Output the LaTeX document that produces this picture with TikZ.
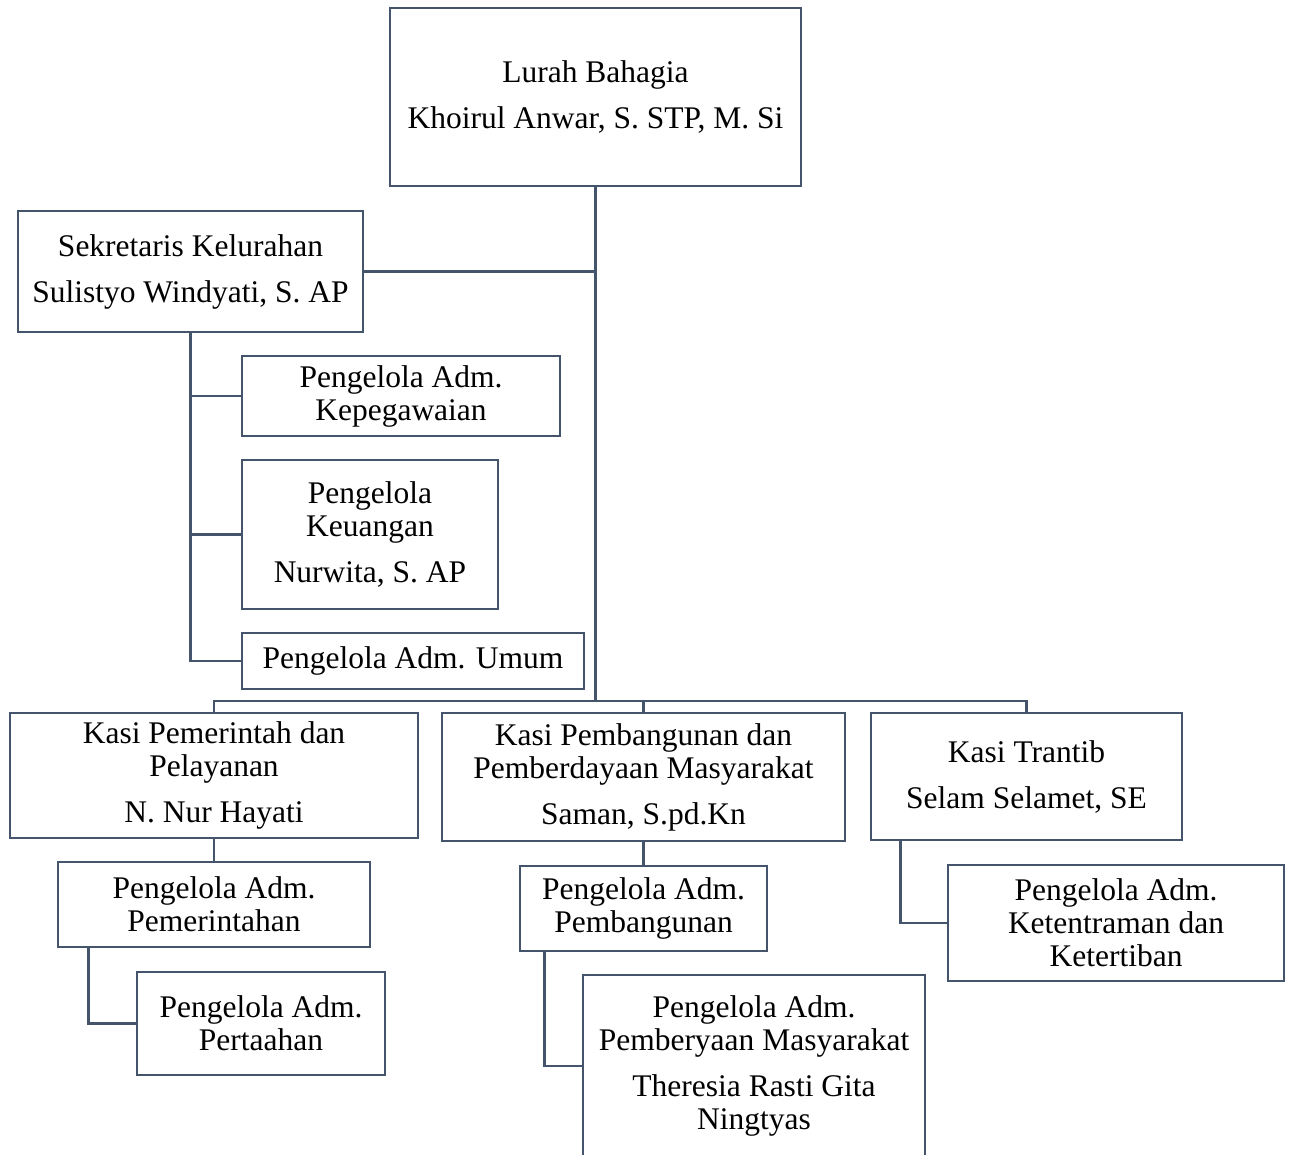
\documentclass[tikz,border=0pt]{standalone}
\usepackage{fontspec}
\setmainfont{Liberation Serif}
\usetikzlibrary{calc}
\definecolor{edge}{RGB}{68,84,106}
\tikzset{
  box/.style={draw=edge, line width=2.7pt, rectangle, fill=white, align=center, inner sep=0pt,
    font=\fontsize{31.5}{33}\selectfont, text=black},
  conn/.style={draw=edge, line width=2.7pt, line cap=rect}
}
\begin{document}
\begin{tikzpicture}[x=1pt,y=-1pt]
\useasboundingbox (0,0) rectangle (1292,1154);
\fill[white] (0,0) rectangle (1292,1154);

\coordinate (busL) at (214,701);

\node[box, minimum width=411pt, minimum height=178pt] (lurah) at (595.5,97) {Lurah Bahagia\\[13pt]Khoirul Anwar, S. STP, M. Si};
\node[box, minimum width=345pt, minimum height=121pt] (sek) at (190.5,271.5) {Sekretaris Kelurahan\\[13pt]Sulistyo Windyati, S. AP};
\node[box, minimum width=318pt, minimum height=80pt] (kep) at (401,396) {Pengelola Adm.\\Kepegawaian};
\node[box, minimum width=256pt, minimum height=149pt] (keu) at (370,534.5) {Pengelola\\Keuangan\\[13pt]Nurwita, S. AP};
\node[box, minimum width=342pt, minimum height=56pt] (umum) at (413,661) {Pengelola Adm. Umum};
\node[box, minimum width=408pt, minimum height=125pt] (kpem) at (214,775.5) {Kasi Pemerintah dan\\Pelayanan\\[13pt]N. Nur Hayati};
\node[box, minimum width=403pt, minimum height=128pt] (kbang) at (643.5,777) {Kasi Pembangunan dan\\Pemberdayaan Masyarakat\\[13pt]Saman, S.pd.Kn};
\node[box, minimum width=311pt, minimum height=127pt] (ktran) at (1026.5,776.5) {Kasi Trantib\\[13pt]Selam Selamet, SE};
\node[box, minimum width=312pt, minimum height=85pt] (ppem) at (214,904.5) {Pengelola Adm.\\Pemerintahan};
\node[box, minimum width=248pt, minimum height=103pt] (ptan) at (261,1023.5) {Pengelola Adm.\\Pertaahan};
\node[box, minimum width=247pt, minimum height=85pt] (pbang) at (643.5,908.5) {Pengelola Adm.\\Pembangunan};
\node[box, minimum width=342pt, minimum height=182pt] (pmas) at (754,1066) {Pengelola Adm.\\Pemberyaan Masyarakat\\[13pt]Theresia Rasti Gita\\Ningtyas};
\node[box, minimum width=336pt, minimum height=116pt] (ptib) at (1116,923) {Pengelola Adm.\\Ketentraman dan\\Ketertiban};

\coordinate (busR) at (ktran.north |- busL);

\draw[conn] (lurah.south) -- (lurah.south |- busL);
\draw[conn] (sek.east) -- (sek.east -| lurah.south);
\draw[conn] (sek.south) |- (umum.west);
\draw[conn] (kep.west -| sek.south) -- (kep.west);
\draw[conn] (keu.west -| sek.south) -- (keu.west);
\draw[conn] (busL) -- (busR);
\draw[conn] (busL) -- (kpem.north);
\draw[conn] (kbang.north |- busL) -- (kbang.north);
\draw[conn] (busR) -- (ktran.north);
\draw[conn] (kpem.south) -- (ppem.north);
\draw[conn] ([xshift=32pt]ppem.south west) |- (ptan.west);
\draw[conn] (kbang.south) -- (pbang.north);
\draw[conn] ([xshift=26pt]pbang.south west) |- (pmas.west);
\draw[conn] ([xshift=31pt]ktran.south west) |- (ptib.west);
\end{tikzpicture}
\end{document}
